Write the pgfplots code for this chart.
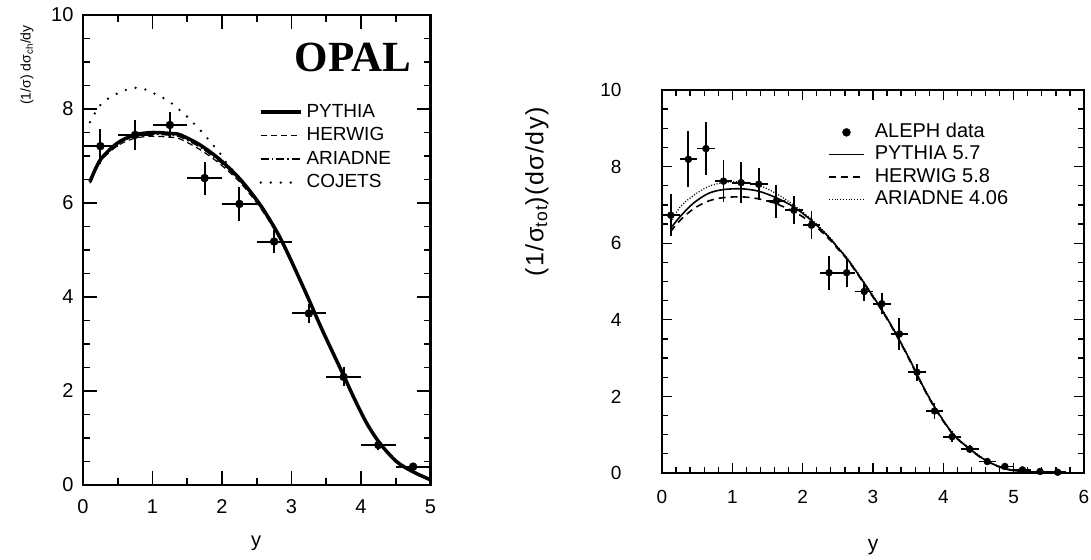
\documentclass[border=0pt]{standalone}
\usepackage{fontspec}
\setmainfont{Liberation Sans}
\newfontfamily\opalfont{Liberation Serif}
\newfontfamily\spacedfont[LetterSpace=6]{Liberation Sans}
\usepackage{pgfplots}
\pgfplotsset{compat=1.18}

% OPAL: charged multiplicity vs rapidity
\pgfplotstableread{
x y ex ey
0.25 7.21 0.25 0.37
0.75 7.45 0.25 0.32
1.25 7.66 0.25 0.27
1.75 6.53 0.25 0.35
2.25 5.98 0.25 0.37
2.75 5.18 0.25 0.25
3.25 3.65 0.25 0.21
3.75 2.30 0.25 0.20
4.25 0.85 0.25 0.10
4.75 0.39 0.25 0.06
}\opaldata

% ALEPH data
\pgfplotstableread{
x y ex ey
0.125 6.73 0.125 0.55
0.375 8.19 0.125 0.73
0.625 8.47 0.125 0.69
0.875 7.62 0.125 0.55
1.125 7.58 0.125 0.54
1.375 7.54 0.125 0.42
1.625 7.10 0.125 0.43
1.875 6.86 0.125 0.37
2.125 6.47 0.125 0.36
2.375 5.23 0.125 0.44
2.625 5.23 0.125 0.37
2.875 4.74 0.125 0.24
3.125 4.42 0.125 0.28
3.375 3.63 0.125 0.41
3.625 2.63 0.125 0.22
3.875 1.62 0.125 0.20
4.125 0.95 0.125 0.14
4.375 0.62 0.125 0.10
4.625 0.30 0.125 0.06
4.875 0.17 0.125 0.05
5.125 0.08 0.125 0.04
5.375 0.04 0.125 0.03
5.625 0.02 0.125 0.02
}\alephdata

\pgfplotsset{
  ticklabs/.style={
    /pgf/number format/assume math mode=true,
    tick label style={font=\fontsize{#1}{#1}\selectfont},
  },
}

\begin{document}
\begin{tikzpicture}[x=1pt,y=1pt]
\useasboundingbox (0,0) rectangle (1091,559);

% axis labels placed by hand
\node[rotate=90, font=\fontsize{14}{14}\selectfont] at (27,494) {(1/σ) dσ\textsubscript{ch}/dy};
\node[rotate=90, font=\spacedfont\fontsize{25}{25}\selectfont] at (537,367) {(1/σ\textsubscript{tot})(dσ/dy)};
\node[font=\fontsize{20}{20}\selectfont] at (256,16) {y};
\node[font=\fontsize{21}{21}\selectfont] at (873,12) {y};

%%% left panel: OPAL
\begin{axis}[
  at={(83pt,74pt)}, anchor=south west,
  scale only axis, width=347.5pt, height=470pt,
  xmin=0, xmax=5, ymin=0, ymax=10,
  xtick={0,1,2,3,4,5}, minor x tick num=1,
  ytick={0,2,4,6,8,10}, minor y tick num=3,
  tick align=inside, tick pos=both,
  xticklabel pos=bottom, yticklabel pos=left,
  major tick length=14pt, minor tick length=7pt,
  every tick/.style={black, line width=1.8pt},
  axis line style={line width=2.6pt},
  ticklabs=20,
  yticklabel style={xshift=-6pt},
  xticklabel style={yshift=-11pt},
  legend image code/.code={\draw[#1] (0pt,0pt) -- (40pt,0pt);},
  legend cell align=left,
  legend style={at={(axis cs:2.53,8.19)}, anchor=north west, draw=none, fill=none,
    font=\fontsize{19}{19}\selectfont, inner sep=0pt, row sep=0pt,
    nodes={inner xsep=4pt, inner ysep=3pt, text height=14pt, text depth=3.5pt}},
  clip=false,
]
\addplot[only marks, mark=*, mark size=4pt, black, forget plot,
  error bars/.cd, x dir=both, x explicit, y dir=both, y explicit,
  error mark=none, error bar style={line width=2pt}]
  table[x=x, y=y, x error=ex, y error=ey] {\opaldata};
\addplot[black, line width=3.5pt, smooth] coordinates {
(0.10,6.45) (0.25,6.92) (0.50,7.28) (0.75,7.45) (1.00,7.50) (1.25,7.48)
(1.40,7.45) (1.69,7.23) (1.98,6.91) (2.27,6.49) (2.55,5.96) (2.80,5.36)
(2.99,4.79) (3.23,4.01) (3.42,3.37) (3.60,2.80) (3.76,2.30) (3.89,1.88)
(4.08,1.32) (4.27,0.89) (4.51,0.50) (4.75,0.28) (5.00,0.11)};
\addlegendentry{PYTHIA}
\addplot[black, line width=1.2pt, dash pattern=on 6pt off 4pt, smooth] coordinates {
(0.10,6.42) (0.25,6.88) (0.50,7.22) (0.75,7.38) (1.00,7.42) (1.25,7.40)
(1.40,7.36) (1.69,7.13) (1.98,6.82) (2.27,6.42) (2.55,5.90) (2.80,5.32)
(2.99,4.76) (3.23,3.99) (3.42,3.35) (3.60,2.78) (3.76,2.28) (3.89,1.86)
(4.08,1.30) (4.27,0.87) (4.51,0.48) (4.75,0.26) (5.00,0.10)};
\addlegendentry{HERWIG}
\addplot[black, line width=1.2pt, dash pattern=on 8pt off 3pt on 1.5pt off 3pt, smooth] coordinates {
(0.10,6.47) (0.25,6.93) (0.50,7.26) (0.75,7.42) (1.00,7.46) (1.25,7.44)
(1.40,7.40) (1.69,7.18) (1.98,6.86) (2.27,6.45) (2.55,5.93) (2.80,5.34)
(2.99,4.77) (3.23,4.00) (3.42,3.36) (3.60,2.79) (3.76,2.29) (3.89,1.87)
(4.08,1.31) (4.27,0.88) (4.51,0.49) (4.75,0.27) (5.00,0.10)};
\addlegendentry{ARIADNE}
\addplot[black, line width=2.6pt, line cap=round, dash pattern=on 0pt off 10pt, smooth] coordinates {
(0.10,7.72) (0.24,8.07) (0.39,8.25) (0.56,8.37) (0.72,8.45) (0.89,8.42)
(1.05,8.31) (1.21,8.19) (1.35,8.03) (1.49,7.85) (1.61,7.67) (1.73,7.48)
(1.85,7.27) (1.97,7.06) (2.07,6.84) (2.27,6.50) (2.55,5.97) (2.80,5.37)
(2.99,4.80) (3.23,4.02) (3.42,3.38) (3.60,2.81) (3.76,2.31) (3.89,1.89)
(4.08,1.33) (4.27,0.90) (4.51,0.51) (4.75,0.29) (5.00,0.12)};
\addlegendentry{COJETS}
\node[font=\opalfont\bfseries\fontsize{43}{43}\selectfont] at (axis cs:3.885,9.10) {OPAL};
\end{axis}

%%% right panel: ALEPH
\begin{axis}[
  at={(662pt,86pt)}, anchor=south west,
  scale only axis, width=422pt, height=383pt,
  xmin=0, xmax=6, ymin=0, ymax=10,
  xtick={0,1,2,3,4,5,6}, minor x tick num=4,
  ytick={0,2,4,6,8,10}, minor y tick num=3,
  tick align=inside, tick pos=both,
  xticklabel pos=bottom, yticklabel pos=left,
  major tick length=10pt, minor tick length=6pt,
  every tick/.style={black, line width=1.3pt},
  axis line style={line width=1.8pt},
  ticklabs=19,
  yticklabel style={xshift=-37pt},
  xticklabel style={yshift=-14pt},
  legend image code/.code={\draw[#1] (0pt,0pt) -- (35pt,0pt);},
  legend cell align=left,
  legend style={at={(axis cs:2.36,9.19)}, anchor=north west, draw=none, fill=none,
    font=\fontsize{20}{20}\selectfont, inner sep=0pt, row sep=0pt,
    nodes={inner xsep=10pt, inner ysep=2.4pt, text height=14pt, text depth=3.5pt}},
  clip=false,
]
\addlegendimage{legend image code/.code={\fill[black] (17.5pt,0pt) circle (4pt);}}
\addlegendentry{ALEPH data}
\addplot[only marks, mark=*, mark size=3.5pt, black, forget plot,
  error bars/.cd, x dir=both, x explicit, y dir=both, y explicit,
  error mark=none, error bar style={line width=1.8pt}]
  table[x=x, y=y, x error=ex, y error=ey] {\alephdata};
\addplot[black, line width=1.6pt, smooth] coordinates {
(0.12,6.38) (0.26,6.70) (0.45,7.05) (0.66,7.30) (0.87,7.40) (1.13,7.42)
(1.37,7.36) (1.62,7.19) (1.87,6.95) (2.12,6.60) (2.37,6.16) (2.50,5.88)
(2.63,5.60) (2.77,5.24) (2.96,4.72) (3.15,4.19) (3.34,3.59) (3.53,2.93)
(3.72,2.23) (3.91,1.62) (4.14,1.01) (4.38,0.62) (4.62,0.31) (4.90,0.10)
(5.20,0.03) (5.60,0.00)};
\addlegendentry{PYTHIA 5.7}
\addplot[black, line width=1.6pt, dash pattern=on 7pt off 5pt, smooth] coordinates {
(0.12,6.30) (0.26,6.60) (0.45,6.90) (0.66,7.10) (0.87,7.19) (1.13,7.21)
(1.37,7.16) (1.62,7.03) (1.87,6.83) (2.12,6.54) (2.37,6.12) (2.50,5.85)
(2.63,5.58) (2.77,5.22) (2.96,4.70) (3.15,4.17) (3.34,3.57) (3.53,2.91)
(3.72,2.21) (3.91,1.60) (4.14,1.00) (4.38,0.61) (4.62,0.30) (4.90,0.10)
(5.20,0.03) (5.60,0.00)};
\addlegendentry{HERWIG 5.8}
\addplot[black, line width=1.3pt, dash pattern=on 1pt off 1.8pt, smooth] coordinates {
(0.12,6.55) (0.26,6.95) (0.45,7.25) (0.66,7.48) (0.87,7.58) (1.13,7.60)
(1.37,7.52) (1.62,7.30) (1.87,7.00) (2.12,6.63) (2.37,6.18) (2.50,5.90)
(2.63,5.62) (2.77,5.26) (2.96,4.74) (3.15,4.21) (3.34,3.61) (3.53,2.95)
(3.72,2.25) (3.91,1.64) (4.14,1.03) (4.38,0.64) (4.62,0.32) (4.90,0.11)
(5.20,0.03) (5.60,0.00)};
\addlegendentry{ARIADNE 4.06}
\end{axis}
\end{tikzpicture}
\end{document}
